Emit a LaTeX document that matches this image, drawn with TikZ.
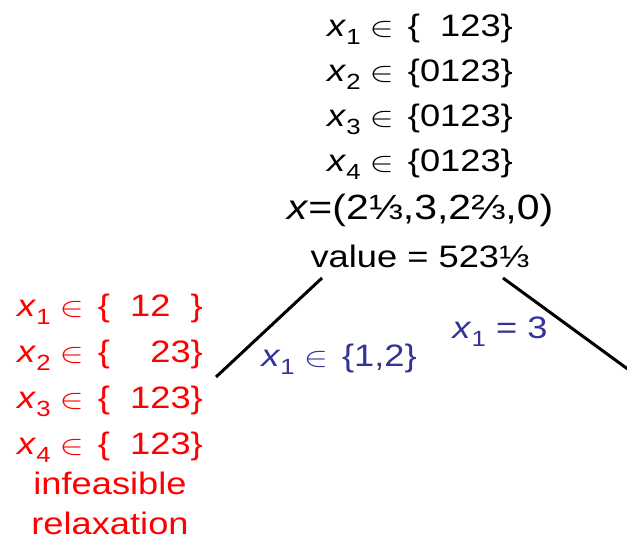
\documentclass[tikz,border=0pt]{standalone}
\usepackage{fix-cm}
\usepackage{graphicx}
\usepackage{fontspec}
\setmainfont{Liberation Sans}[FakeStretch=1.17]
\usetikzlibrary{positioning}
\definecolor{lblblue}{RGB}{51,51,153}
\newcommand{\xv}[1]{\textit{x}\raisebox{-8pt}{\fontsize{22}{24}\selectfont #1}}
\newcommand{\inset}{\hspace{9pt}{\fontsize{28}{30}\selectfont\scalebox{1.3}[1]{$\in$}}\hspace{14pt}}
\newcommand{\gap}[1]{\phantom{#1}}

\begin{document}
\begin{tikzpicture}[x=1pt, y=-1pt,
        every node/.style={inner sep=0pt, align=center},
        % boxes of the search tree
        rootbox/.style={font=\fontsize{31}{45}\selectfont},
        deadbox/.style={font=\fontsize{31}{46}\selectfont, text=red},
        % labels of the branches
        branch/.style={font=\fontsize{31}{36}\selectfont, text=lblblue},
        treeline/.style={line width=3pt},
    ]
    \useasboundingbox (0,0) rectangle (627,545);

    %% nodes
    \node[rootbox, anchor=north] (root) at (420,14)
        {\xv{1}\inset\{\gap{0}123\}\\
         \xv{2}\inset\{0123\}\\
         \xv{3}\inset\{0123\}\\
         \xv{4}\inset\{0123\}\\[3pt]
         {\fontsize{35}{45}\selectfont\textit{x}=(2⅓,3,2⅔,0)}\\[3pt]
         value = 523⅓};
    \node[deadbox, anchor=north] (infeas) at (110,294)
        {\xv{1}\inset\{\gap{0}12\gap{3}\}\\
         \xv{2}\inset\{\gap{01}23\}\\
         \xv{3}\inset\{\gap{0}123\}\\
         \xv{4}\inset\{\gap{0}123\}\\[-6pt]
         infeasible\\[-6pt]
         relaxation};

    % ends of the branches
    \coordinate (root-l) at (322,278);
    \coordinate (root-r) at (503,278);
    \coordinate (infeas-e) at (216,377);
    \coordinate (right-e) at (640,378);

    %% branches
    \draw[treeline] (root-l) -- (infeas-e);
    \draw[treeline] (root-r) -- (right-e);

    \node[branch, anchor=base] (lbl-l) at (339,367) {\xv{1}\inset\{1,2\}};
    \node[branch, anchor=base] (lbl-r) at (500,339) {\xv{1} = 3};
\end{tikzpicture}
\end{document}
